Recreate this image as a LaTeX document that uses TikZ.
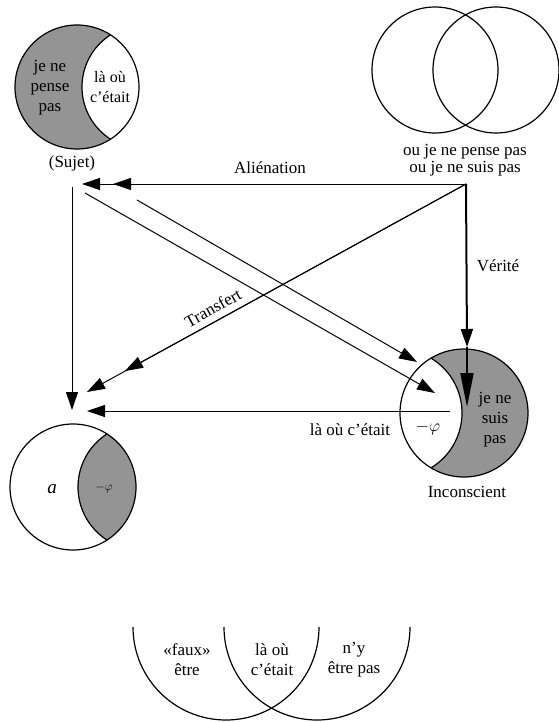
\documentclass[tikz,border=0pt]{standalone}
\usepackage{fontspec}
\setmainfont{Liberation Serif}
\usetikzlibrary{arrows.meta}
\begin{document}
\begin{tikzpicture}[x=1pt,y=-1pt,
  tip/.style={-{Triangle[length=18pt,width=12pt]}},
  ln/.style={line width=1pt},
  ring/.style={line width=1.2pt},
  lbl/.style={font=\fontsize{17}{18}\selectfont, inner sep=0pt},
  inlbl/.style={font=\fontsize{17}{20}\selectfont, align=center, inner sep=0pt},
  shade/.style={fill=black!42}]
\useasboundingbox (0,0) rectangle (558,722);

% ---- Sujet circle (gray with white lens)
\fill[shade] (77,87) circle[radius=62];
\begin{scope}
  \clip (77,87) circle[radius=62];
  \fill[white] (144,87) circle[radius=62];
  \draw[ring] (144,87) circle[radius=62];
\end{scope}
\draw[ring] (77,87) circle[radius=62];
\node[inlbl] (jnpp) at (50,88) {je ne\\pense\\pas};
\node[inlbl, font=\fontsize{16}{20}\selectfont] (lao1) at (110,87) {là où\\c'était};
\node[lbl] (sujet) at (72,163) {(Sujet)};

% ---- top right two circles
\draw[ring] (435,70) circle[radius=63];
\draw[ring] (496,70) circle[radius=63];
\node[lbl, align=center, font=\fontsize{17}{17}\selectfont] (oujene) at (465,160) {ou je ne pense pas\\ou je ne suis pas};

% ---- a circle (white with gray lens)
\begin{scope}
  \clip (73,487) circle[radius=63];
  \fill[shade] (141,487) circle[radius=63];
  \draw[ring] (141,487) circle[radius=63];
\end{scope}
\draw[ring] (73,487) circle[radius=63];
\node[inlbl, font=\fontsize{19}{20}\selectfont\itshape] (a) at (52,489) {a};
\node[inlbl, font=\fontsize{13}{14}\selectfont] (phia) at (104,488) {$-\varphi$};

% ---- Inconscient circle (gray with white lens)
\fill[shade] (464,413) circle[radius=64];
\begin{scope}
  \clip (464,413) circle[radius=64];
  \fill[white] (398,413) circle[radius=64];
  \draw[ring] (398,413) circle[radius=64];
\end{scope}
\draw[ring] (464,413) circle[radius=64];
\node[inlbl] (jnsp) at (495,420) {je ne\\suis\\pas};
\node[inlbl, font=\fontsize{18}{19}\selectfont] (phii) at (428,428) {$-\varphi$};
\node[lbl] (incons) at (467,492) {Inconscient};

% ---- connectors
\coordinate (P) at (466,184);
\coordinate (al1) at (82,184);
\coordinate (al2) at (113,184);
\draw[ln, tip] (P) -- (al1);
\draw[ln, tip] (P) -- (al2);
\node[lbl] (alien) at (270,168) {Aliénation};

\coordinate (v1) at (467,347);
\coordinate (v2) at (467,407);
\draw[line width=2pt, tip] (P) -- (v1);
\draw[line width=2pt, -{Triangle[length=34pt,width=13pt]}] (v1) -- (v2);
\node[lbl] (verite) at (498,266) {Vérité};

\coordinate (t1) at (87,392);
\coordinate (t2) at (125,371);
\draw[ln, tip] (P) -- (t1);
\draw[ln, tip] (P) -- (t2);
\node[lbl, rotate=29] (transfert) at (213,308) {Transfert};

\coordinate (s0) at (72,187);
\coordinate (s1) at (72,410);
\draw[ln, tip] (s0) -- (s1);

\coordinate (d1a) at (85,193);
\coordinate (d1b) at (435,393);
\draw[ln, tip] (d1a) -- (d1b);
\coordinate (d2a) at (137,200);
\coordinate (d2b) at (417,362);
\draw[ln, tip] (d2a) -- (d2b);

\coordinate (h0) at (450,411);
\coordinate (h1) at (87,411);
\draw[ln, tip] (h0) -- (h1);
\node[lbl] (laoh) at (350,430) {là où c'était};

% ---- bottom arcs
\draw[ring] (133,627) arc[start angle=180, end angle=0, radius=93];
\draw[ring] (224,627) arc[start angle=180, end angle=0, radius=93];
\node[inlbl] (faux) at (187,660) {«faux»\\être};
\node[inlbl] (lao2) at (272,660) {là où\\c'était};
\node[inlbl] (nye) at (354,660) {n'y\\être pas};
\end{tikzpicture}
\end{document}
